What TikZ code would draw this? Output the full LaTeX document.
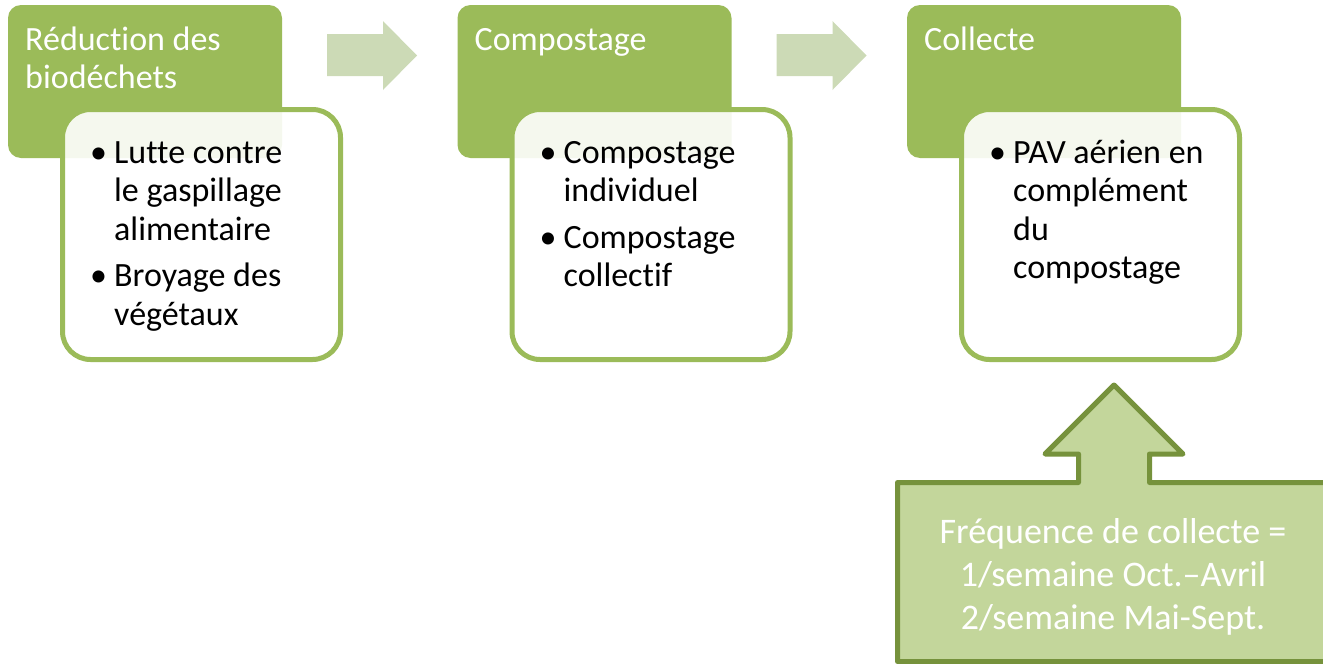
\documentclass[tikz,border=0pt]{standalone}
\usepackage{fontspec}
\setmainfont[Ligatures=CommonOff]{Carlito}
\definecolor{leafgreen}{HTML}{9BBB59}
\definecolor{palegreen}{HTML}{CCDAB6}
\definecolor{calloutfill}{HTML}{C3D69B}
\definecolor{calloutline}{HTML}{76923C}
\newcommand{\lines}[1]{\begin{tabular}[t]{@{}l@{}}#1\end{tabular}}
\newcommand{\bitem}[1]{\makebox[24pt][l]{\textbullet}\lines{#1}}
\newcommand{\itemgap}{\\\noalign{\vskip 8pt}}
\begin{document}
\begin{tikzpicture}[x=1pt,y=-1pt]
  \tikzset{
    head box/.style={rectangle,rounded corners=13pt,fill=leafgreen,minimum width=274pt,minimum height=153pt,anchor=north west,inner sep=0pt,outer sep=0pt},
    item box/.style={rectangle,rounded corners=28pt,draw=leafgreen,line width=5pt,fill=white,fill opacity=0.9,minimum width=278pt,minimum height=250pt,anchor=north west,inner sep=0pt,outer sep=0pt},
    head text/.style={anchor=base west,inner sep=0pt,text=white,font=\fontsize{34}{38}\selectfont},
    item text/.style={anchor=base west,inner sep=0pt,text=black,font=\fontsize{34}{38.5}\selectfont},
    flow arrow/.style={fill=palegreen},
    note text/.style={anchor=base,inner sep=0pt,text=white,font=\fontsize{36}{43}\selectfont}
  }
  \clip (0,0) rectangle (1323,664);
  % step 1
  \node[head box] (hd1) at (8,5) {};
  \node[item box] (bx1) at (62.5,109.5) {};
  \node[head text] (ht1) at (25,50) {\lines{Réduction des\\biodéchets}};
  \node[item text] (it1) at (90,163) {\lines{\bitem{Lutte contre\\le gaspillage\\alimentaire}\itemgap\bitem{Broyage des\\végétaux}}};
  % step 2
  \node[head box] (hd2) at (457.5,5) {};
  \node[item box] (bx2) at (512,109.5) {};
  \node[head text] (ht2) at (474.5,50) {Compostage};
  \node[item text] (it2) at (539.5,163) {\lines{\bitem{Compostage\\individuel}\itemgap\bitem{Compostage\\collectif}}};
  % step 3
  \node[head box] (hd3) at (907,5) {};
  \node[item box] (bx3) at (961.5,109.5) {};
  \node[head text] (ht3) at (924,50) {Collecte};
  \node[item text] (it3) at (989,163) {\bitem{PAV aérien en\\complément\\du\\compostage}};
  % arrows between steps
  \fill[flow arrow] (327,34) -- (383,34) -- (383,21) -- (417,55.5) -- (383,90) -- (383,76) -- (327,76) -- cycle;
  \fill[flow arrow] (776.5,34) -- (832.5,34) -- (832.5,21) -- (866.5,55.5) -- (832.5,90) -- (832.5,76) -- (776.5,76) -- cycle;
  % frequency callout
  \filldraw[fill=calloutfill,draw=calloutline,line width=5pt,line join=round]
    (897.5,661.5) -- (897.5,482.5) -- (1078.5,482.5) -- (1078.5,454) -- (1045,454) -- (1114,385)
    -- (1183,454) -- (1149.5,454) -- (1149.5,482.5) -- (1335,482.5) -- (1335,661.5) -- cycle;
  \node[note text] (nt) at (1113,543) {\begin{tabular}[t]{@{}c@{}}Fréquence de collecte =\\1/semaine Oct.--Avril\\2/semaine Mai-Sept.\end{tabular}};
\end{tikzpicture}
\end{document}
